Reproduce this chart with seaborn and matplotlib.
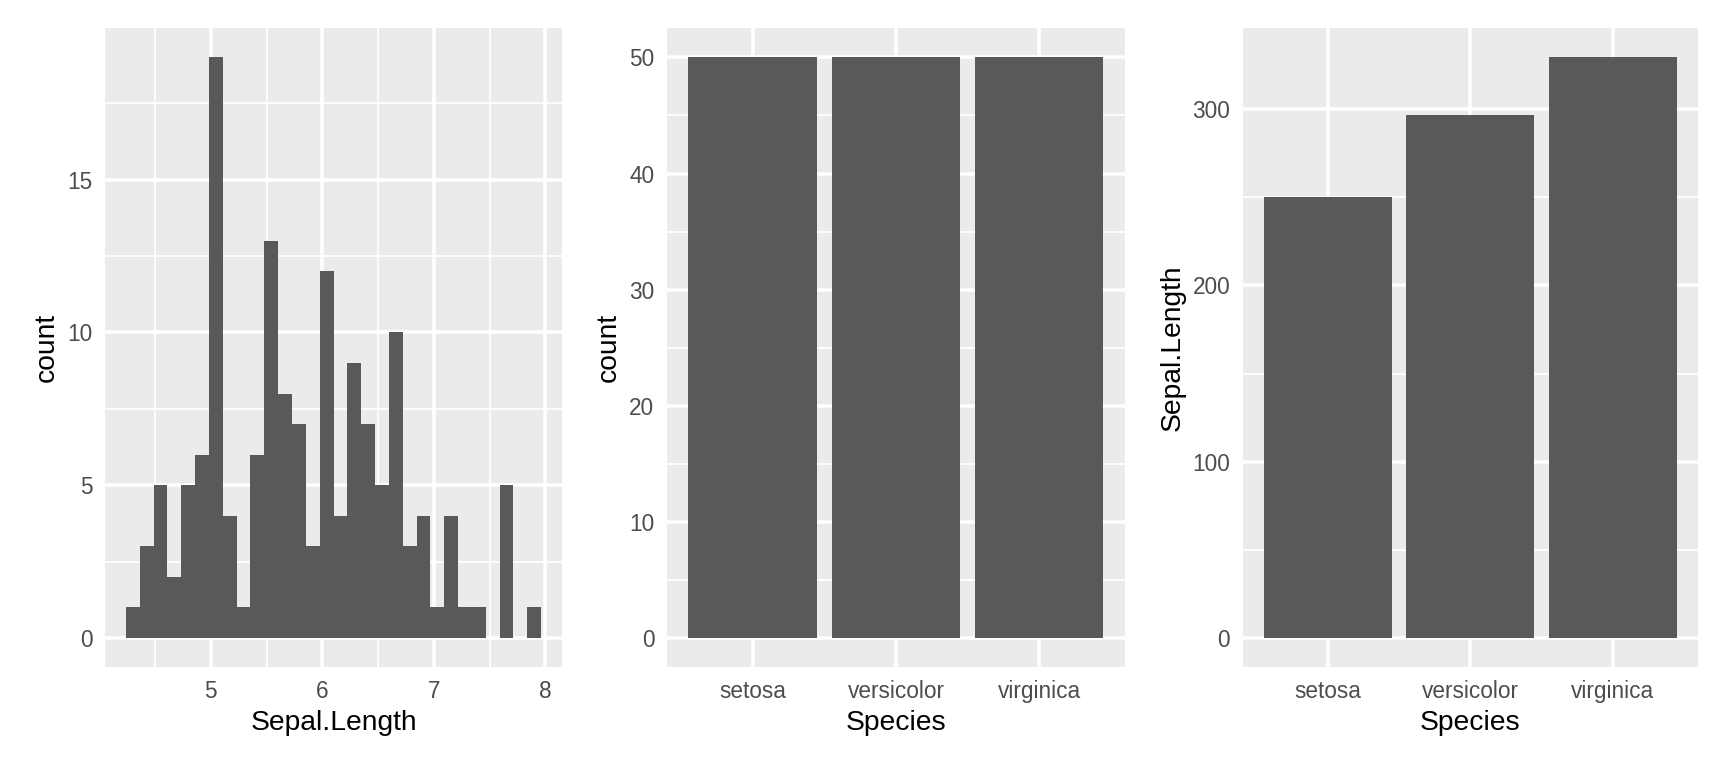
import numpy as np
import pandas as pd
import matplotlib
matplotlib.use("Agg")
import matplotlib.pyplot as plt
import seaborn as sns

# iris Sepal.Length histogram, 30 bins (counts)
bin_lo, bin_hi, n_bins = 4.3, 7.9, 30
hist_counts = [1, 3, 5, 2, 5, 6, 19, 4, 1, 6,
               13, 8, 7, 3, 12, 4, 9, 7, 5, 10,
               3, 4, 1, 4, 1, 1, 0, 5, 0, 1]

species = ["setosa", "versicolor", "virginica"]
species_count = [50, 50, 50]
sepal_sum = [250.3, 296.8, 329.4]

BG = "#EBEBEB"
BAR = "#595959"
TICK_TXT = "#4D4D4D"
TICK_LINE = "#333333"

sns.set_style("white")
plt.rcParams["font.family"] = ["Liberation Sans", "DejaVu Sans"]

DPI = 185
fig = plt.figure(figsize=(1728 / DPI, 768 / DPI), dpi=DPI)
bottom, height = 0.1315, 0.8315
ax1 = fig.add_axes([0.0608, bottom, 0.2644, height])
ax2 = fig.add_axes([0.3860, bottom, 0.2650, height])
ax3 = fig.add_axes([0.7193, bottom, 0.2633, height])


def gg_style(ax, yticks, yminor, xminor=None):
    ax.set_facecolor(BG)
    for s in ax.spines.values():
        s.set_visible(False)
    ax.set_yticks(yticks)
    ax.set_yticks(yminor, minor=True)
    if xminor is not None:
        ax.set_xticks(xminor, minor=True)
    ax.grid(True, which="major", color="white", linewidth=1.4)
    ax.grid(True, which="minor", color="white", linewidth=0.7)
    ax.set_axisbelow(True)
    ax.tick_params(which="major", length=2.75, width=1.1, color=TICK_LINE,
                   labelsize=8.8, labelcolor=TICK_TXT, pad=2.2)
    ax.tick_params(which="minor", length=0)


# histogram
width = (bin_hi - bin_lo) / (n_bins - 1)
edges = np.linspace(bin_lo - width / 2, bin_hi + width / 2, n_bins + 1)
centers = (edges[:-1] + edges[1:]) / 2
hist_df = pd.DataFrame({"Sepal.Length": centers, "n": hist_counts})
sns.histplot(data=hist_df, x="Sepal.Length", weights="n", bins=list(edges),
             color=BAR, alpha=1, edgecolor="none", linewidth=0, ax=ax1)
span = edges[-1] - edges[0]
ax1.set_xlim(edges[0] - 0.05 * span, edges[-1] + 0.05 * span)
ymax = max(hist_counts)
ax1.set_ylim(-0.05 * ymax, 1.05 * ymax)
ax1.set_xticks([5, 6, 7, 8])
gg_style(ax1, [0, 5, 10, 15], [2.5, 7.5, 12.5, 17.5], [4.5, 5.5, 6.5, 7.5])
ax1.set_ylabel("count", fontsize=11)
ax1.set_xlabel("Sepal.Length", fontsize=11)

# count by species
cnt_df = pd.DataFrame({"Species": species, "count": species_count})
sns.barplot(data=cnt_df, x="Species", y="count", color=BAR, saturation=1,
            width=0.9, linewidth=0, ax=ax2)
ax2.set_xlim(-0.6, 2.6)
ax2.set_ylim(-0.05 * 50, 1.05 * 50)
gg_style(ax2, [0, 10, 20, 30, 40, 50], [5, 15, 25, 35, 45])
ax2.set_ylabel("count", fontsize=11)
ax2.set_xlabel("Species", fontsize=11)

# sum of Sepal.Length by species
sum_df = pd.DataFrame({"Species": species, "Sepal.Length": sepal_sum})
sns.barplot(data=sum_df, x="Species", y="Sepal.Length", color=BAR,
            saturation=1, width=0.9, estimator="sum", errorbar=None,
            linewidth=0, ax=ax3)
ax3.set_xlim(-0.6, 2.6)
smax = max(sepal_sum)
ax3.set_ylim(-0.05 * smax, 1.05 * smax)
gg_style(ax3, [0, 100, 200, 300], [50, 150, 250])
ax3.set_ylabel("Sepal.Length", fontsize=11)
ax3.set_xlabel("Species", fontsize=11)

for ax in (ax1, ax2, ax3):
    ax.xaxis.label.set_color("black")
    ax.yaxis.label.set_color("black")
    ax.xaxis.labelpad = 2.75
    ax.yaxis.labelpad = 2.75

fig.savefig("out.png", dpi=DPI, facecolor="white")
